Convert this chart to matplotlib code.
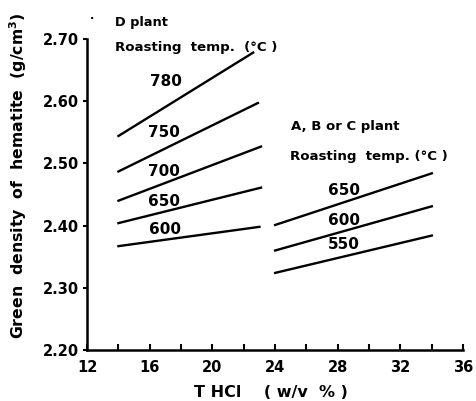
import matplotlib
matplotlib.use('Agg')
from matplotlib import pyplot as plt

# D plant, roasting temps and density at start/end of each line
d_temps = ['780', '750', '700', '650', '600']
d_x_start = [14, 14, 14, 14, 14]
d_x_end = [22.6, 22.9, 23.1, 23.1, 23.0]
d_y_start = [2.544, 2.487, 2.440, 2.404, 2.367]
d_y_end = [2.678, 2.597, 2.527, 2.461, 2.398]

# A, B or C plant
abc_temps = ['650', '600', '550']
abc_x_start = [24, 24, 24]
abc_x_end = [34, 34, 34]
abc_y_start = [2.401, 2.360, 2.324]
abc_y_end = [2.484, 2.431, 2.384]

x_major = [12, 16, 20, 24, 28, 32, 36]
x_minor = [14, 18, 22, 26, 30, 34]
y_ticks = [2.20, 2.30, 2.40, 2.50, 2.60, 2.70]

# label positions (data coords)
d_label_xy = [(17.0, 2.631), (16.9, 2.549), (16.9, 2.487), (16.9, 2.438), (17.0, 2.394)]
abc_label_xy = [(28.4, 2.456), (28.4, 2.409), (28.4, 2.369)]

plt.rcParams['font.family'] = 'DejaVu Sans'
plt.rcParams['font.weight'] = 'bold'

fig = plt.figure(figsize=(4.76, 4.01), dpi=100)
ax = fig.add_axes([0.183, 0.127, 0.790, 0.776])

for i in range(len(d_temps)):
    ax.plot([d_x_start[i], d_x_end[i]], [d_y_start[i], d_y_end[i]], color='black', lw=1.7)
    ax.text(d_label_xy[i][0], d_label_xy[i][1], d_temps[i], ha='center', va='center', fontsize=11)

for i in range(len(abc_temps)):
    ax.plot([abc_x_start[i], abc_x_end[i]], [abc_y_start[i], abc_y_end[i]], color='black', lw=1.7)
    ax.text(abc_label_xy[i][0], abc_label_xy[i][1], abc_temps[i], ha='center', va='center', fontsize=11)

ax.text(13.8, 2.727, 'D plant', ha='left', va='center', fontsize=9.3, clip_on=False)
ax.text(13.8, 2.6855, 'Roasting  temp.  (°C )', ha='left', va='center', fontsize=9.6)
ax.text(25.0, 2.559, 'A, B or C plant', ha='left', va='center', fontsize=9.5)
ax.text(24.95, 2.511, 'Roasting  temp. (°C )', ha='left', va='center', fontsize=9.6)
fig.text(0.193, 0.953, '·', ha='center', va='center', fontsize=8)

ax.set_xlim(12, 36)
ax.set_ylim(2.20, 2.70)
ax.set_xticks(x_major)
ax.set_xticks(x_minor, minor=True)
ax.set_yticks(y_ticks)
ax.set_yticklabels(['%.2f' % v for v in y_ticks], fontsize=10.5)
ax.set_xticklabels([str(v) for v in x_major], fontsize=10.5)
ax.tick_params(axis='x', which='both', direction='in', length=4, width=1.5, pad=7)
ax.tick_params(axis='y', direction='out', length=3, width=1.5, pad=3)

ax.spines['top'].set_visible(False)
ax.spines['right'].set_visible(False)
ax.spines['left'].set_linewidth(1.8)
ax.spines['bottom'].set_linewidth(1.8)

fig.text(0.038, 0.561, 'Green  density  of  hematite  (g/cm$^3$)', rotation=90,
         ha='center', va='center', fontsize=11.3)
fig.text(0.570, 0.02, 'T HCl    ( w/v  % )', ha='center', va='center', fontsize=11.5)

plt.savefig('out.png', dpi=100)
